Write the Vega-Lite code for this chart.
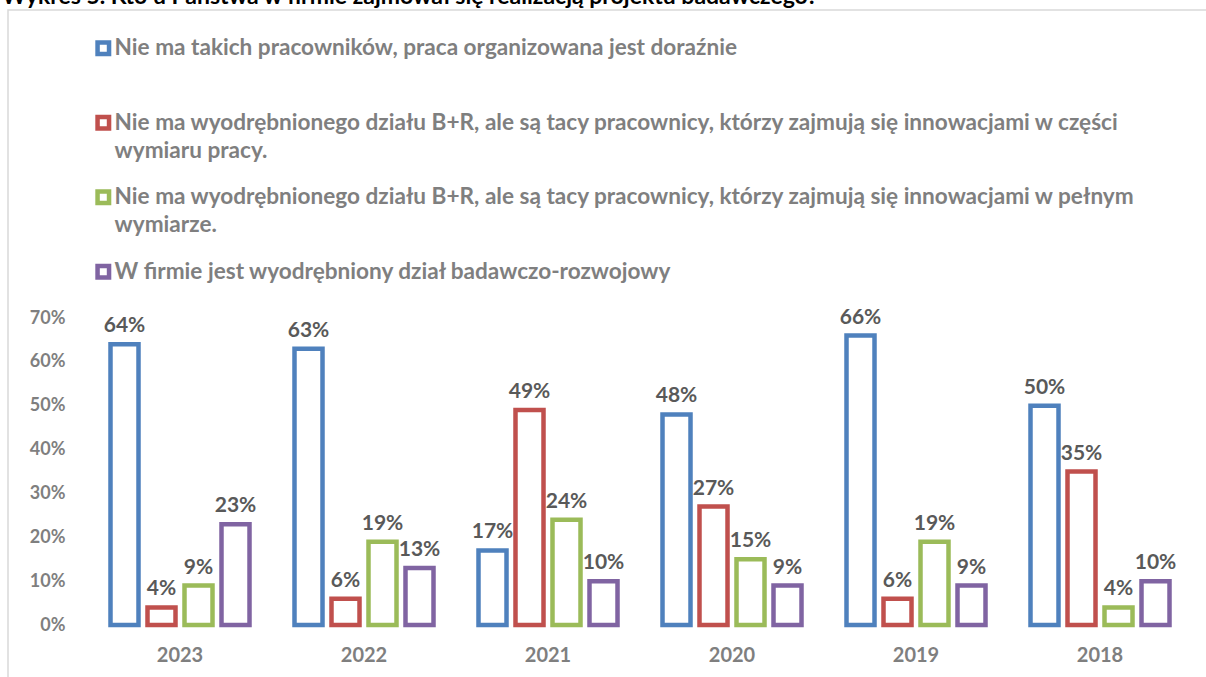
{
  "$schema": "https://vega.github.io/schema/vega-lite/v6.json",
  "autosize": "none",
  "width": 1220,
  "height": 700,
  "padding": {"left": 8, "top": 10, "right": 0, "bottom": 0},
  "background": "white",
  "config": {
    "view": {"stroke": "#d9d9d9", "strokeWidth": 1.5},
    "axis": {"grid": false, "domain": false, "ticks": false, "tickSize": 0},
    "style": {"guide-label": {"lineHeight": 28}}
  },
  "title": {
    "text": "Wykres 5. Kto u Państwa w firmie zajmował się realizacją projektu badawczego?",
    "anchor": "start",
    "offset": 1,
    "dx": -6,
    "font": "Lato",
    "fontSize": 23,
    "fontWeight": "bold",
    "color": "#000000"
  },
  "data": {
    "values": [
      {"year": "2023", "series": "A", "value": 0.64},
      {"year": "2023", "series": "B", "value": 0.04},
      {"year": "2023", "series": "C", "value": 0.09},
      {"year": "2023", "series": "D", "value": 0.23},
      {"year": "2022", "series": "A", "value": 0.63},
      {"year": "2022", "series": "B", "value": 0.06},
      {"year": "2022", "series": "C", "value": 0.19},
      {"year": "2022", "series": "D", "value": 0.13},
      {"year": "2021", "series": "A", "value": 0.17},
      {"year": "2021", "series": "B", "value": 0.49},
      {"year": "2021", "series": "C", "value": 0.24},
      {"year": "2021", "series": "D", "value": 0.10},
      {"year": "2020", "series": "A", "value": 0.48},
      {"year": "2020", "series": "B", "value": 0.27},
      {"year": "2020", "series": "C", "value": 0.15},
      {"year": "2020", "series": "D", "value": 0.09},
      {"year": "2019", "series": "A", "value": 0.66},
      {"year": "2019", "series": "B", "value": 0.06},
      {"year": "2019", "series": "C", "value": 0.19},
      {"year": "2019", "series": "D", "value": 0.09},
      {"year": "2018", "series": "A", "value": 0.50},
      {"year": "2018", "series": "B", "value": 0.35},
      {"year": "2018", "series": "C", "value": 0.04},
      {"year": "2018", "series": "D", "value": 0.10}
    ]
  },
  "encoding": {
    "x": {
      "field": "year", "type": "nominal",
      "sort": ["2023", "2022", "2021", "2020", "2019", "2018"],
      "scale": {"paddingInner": 0, "paddingOuter": 0.3152, "align": 0.6897},
      "axis": {
        "title": null, "orient": "bottom", "offset": -85, "labelPadding": 20,
        "labelAngle": 0, "labelFont": "Lato", "labelFontSize": 20, "labelFontWeight": "bold", "labelColor": "#7f7f7f"
      }
    },
    "xOffset": {
      "field": "series", "type": "nominal",
      "sort": ["A", "B", "C", "D"],
      "scale": {"paddingInner": 0.243, "paddingOuter": 0.608}
    },
    "y": {
      "field": "value", "type": "quantitative",
      "scale": {"domain": [-0.1938, 1.4023], "nice": false, "zero": false},
      "axis": {
        "title": null, "orient": "left", "offset": -57, "labelPadding": 0,
        "values": [0, 0.1, 0.2, 0.3, 0.4, 0.5, 0.6, 0.7], "format": ".0%",
        "labelFont": "Lato", "labelFontSize": 18, "labelFontWeight": "bold", "labelColor": "#7f7f7f"
      }
    }
  },
  "layer": [
    {
      "mark": {"type": "bar", "fill": "white", "strokeWidth": 4.5},
      "encoding": {
        "y2": {"datum": 0},
        "stroke": {
          "field": "series", "type": "nominal",
          "scale": {"domain": ["A", "B", "C", "D"], "range": ["#4f81bd", "#c0504d", "#9bbb59", "#8064a2"]},
          "legend": {
            "title": null,
            "orient": "none",
            "legendX": 84,
            "legendY": 27,
            "direction": "vertical",
            "padding": 0,
            "rowPadding": 19.5,
            "symbolType": "square",
            "symbolSize": 132,
            "symbolStrokeWidth": 4.5,
            "symbolFillColor": "white",
            "labelOffset": 0,
            "labelLimit": 1200,
            "labelFont": "Lato",
            "labelFontSize": 22.6,
            "labelFontWeight": "bold",
            "labelColor": "#7f7f7f",
            "labelExpr": "datum.value == 'A' ? ['Nie ma takich pracowników, praca organizowana jest doraźnie', ''] : datum.value == 'B' ? ['Nie ma wyodrębnionego działu B+R, ale są tacy pracownicy, którzy zajmują się innowacjami w części', 'wymiaru pracy.'] : datum.value == 'C' ? ['Nie ma wyodrębnionego działu B+R, ale są tacy pracownicy, którzy zajmują się innowacjami w pełnym', 'wymiarze.'] : 'W firmie jest wyodrębniony dział badawczo-rozwojowy'"
          }
        }
      }
    },
    {
      "mark": {"type": "text", "baseline": "bottom", "dy": -8, "font": "Lato", "fontSize": 21, "fontWeight": "bold", "color": "#595959"},
      "encoding": {
        "text": {"field": "value", "type": "quantitative", "format": ".0%"}
      }
    }
  ]
}
